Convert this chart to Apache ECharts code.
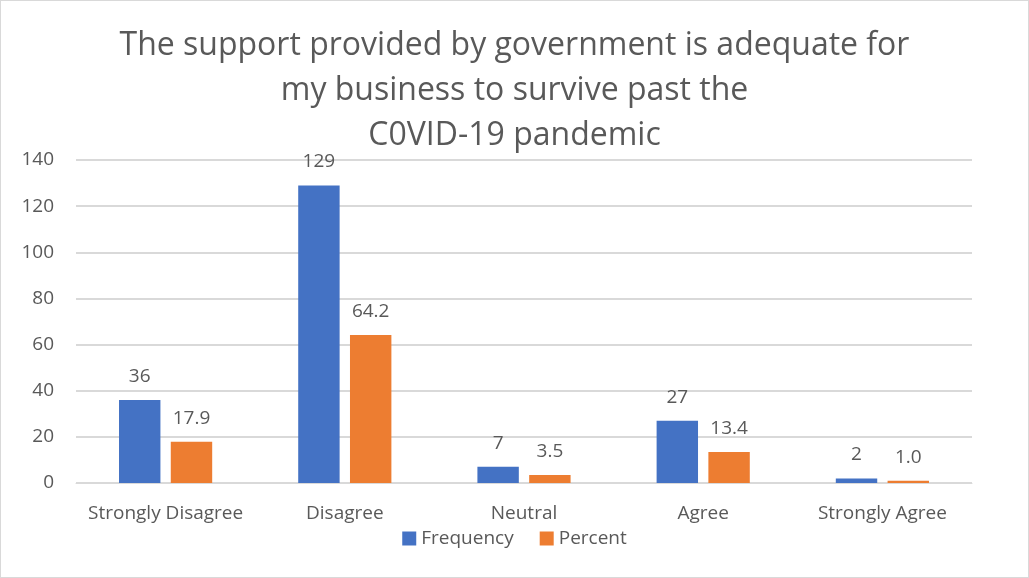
<!DOCTYPE html>
<html>
<head>
<meta charset="utf-8">
<script src="https://cdn.jsdelivr.net/npm/echarts@6/dist/echarts.min.js"></script>
<style>
  html, body { margin: 0; padding: 0; background: #fff; }
  #chart { width: 1029px; height: 578px; box-sizing: border-box; border: 1px solid #d9d9d9; }
</style>
</head>
<body>
<div id="chart"></div>
<script>
var categories = ['Strongly Disagree', 'Disagree', 'Neutral', 'Agree', 'Strongly Agree'];
var frequency = [36, 129, 7, 27, 2];
var percent = [17.9, 64.2, 3.5, 13.4, 1.0];
var titleText = 'The support provided by government is adequate for\nmy business to survive past the\nC0VID-19 pandemic';

var font = 'Open Sans';
var textColor = '#595959';

var myChart = echarts.init(document.getElementById('chart'));
var option = {
  animation: false,
  title: {
    text: titleText,
    left: 'center',
    top: 17,
    textStyle: {
      fontFamily: font,
      fontSize: 32,
      fontWeight: 'normal',
      color: textColor,
      lineHeight: 45
    }
  },
  legend: {
    bottom: 24,
    left: 'center',
    itemWidth: 14,
    itemHeight: 14,
    itemGap: 26,
    icon: 'rect',
    textStyle: { fontFamily: font, fontSize: 19, color: textColor }
  },
  grid: { left: 75, right: 56, top: 159, bottom: 94, containLabel: false },
  xAxis: {
    type: 'category',
    data: categories,
    axisLine: { lineStyle: { color: '#d9d9d9' } },
    axisTick: { show: false },
    axisLabel: { interval: 0, fontFamily: font, fontSize: 19, color: textColor, margin: 21 }
  },
  yAxis: {
    type: 'value',
    min: 0,
    max: 140,
    interval: 20,
    axisLine: { show: false },
    axisTick: { show: false },
    splitLine: { lineStyle: { color: '#d9d9d9', width: 2 } },
    axisLabel: { fontFamily: font, fontSize: 19, color: textColor, margin: 22 }
  },
  series: [
    {
      name: 'Frequency',
      type: 'bar',
      data: frequency,
      barGap: '25%',
      barCategoryGap: '48%',
      itemStyle: { color: '#4472c4' },
      label: { show: true, position: 'top', distance: 14, fontFamily: font, fontSize: 19, color: textColor }
    },
    {
      name: 'Percent',
      type: 'bar',
      data: percent,
      itemStyle: { color: '#ed7d31' },
      label: {
        show: true, position: 'top', distance: 14, fontFamily: font, fontSize: 19, color: textColor,
        formatter: function (p) { return p.value.toFixed(1); }
      }
    }
  ]
};
myChart.setOption(option);
</script>
</body>
</html>
